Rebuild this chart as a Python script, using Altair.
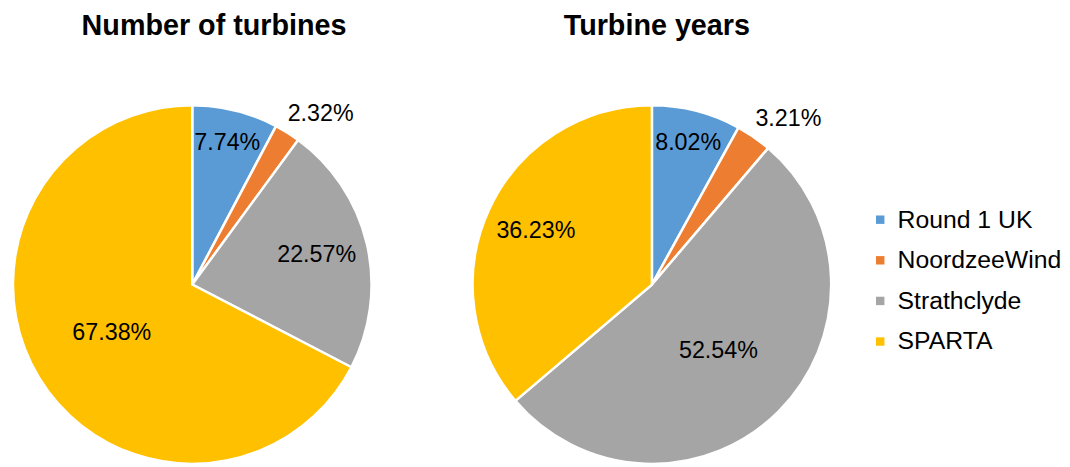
import altair as alt
import pandas as pd

categories = ["Round 1 UK", "NoordzeeWind", "Strathclyde", "SPARTA"]
colors = ["#5B9BD5", "#ED7D31", "#A5A5A5", "#FFC000"]
turbines_pct = [7.74, 2.32, 22.57, 67.38]
years_pct = [8.02, 3.21, 52.54, 36.23]
titles = ["Number of turbines", "Turbine years"]

FONT = "Liberation Sans"


def pie(values, title, title_dx):
    df = pd.DataFrame({"cat": categories, "value": values,
                       "idx": list(range(len(categories)))})
    base = alt.Chart(df).transform_window(
        cum="sum(value)", sort=[alt.SortField("idx")], frame=[None, 0]
    ).transform_joinaggregate(
        total="sum(value)"
    ).transform_calculate(
        ang="2*PI*(datum.cum - datum.value/2)/datum.total",
        lr="datum.value < 5 ? 216 : datum.value < 10 ? 147 : datum.value < 45 ? 129 : 95",
        label="format(datum.value, '.2f') + '%'",
    )
    legend = alt.Legend(
        title=None, orient="none", legendX=866, legendY=106,
        symbolType="square", symbolSize=72, symbolStrokeWidth=0,
        labelFontSize=25, labelFont=FONT, labelColor="black",
        rowPadding=15, labelOffset=5, padding=0, labelLimit=400,
    )
    arcs = base.mark_arc(outerRadius=181, stroke="white", strokeWidth=2.5).encode(
        theta=alt.Theta("value:Q", stack=True),
        order=alt.Order("idx:Q"),
        color=alt.Color("cat:N", scale=alt.Scale(domain=categories, range=colors),
                        sort=categories, legend=legend),
    )
    text_enc = dict(
        theta=alt.Theta("ang:Q", scale=None),
        radius=alt.Radius("lr:Q", scale=None),
        text=alt.Text("label:N"),
    )
    text_in = base.transform_filter("datum.value >= 5").mark_text(
        fontSize=23.5, font=FONT, color="black", align="center", baseline="middle"
    ).encode(**text_enc)
    text_out = base.transform_filter("datum.value < 5").mark_text(
        fontSize=23.5, font=FONT, color="black", align="center", baseline="middle", dx=15, dy=11
    ).encode(**text_enc)
    return alt.layer(arcs, text_in, text_out).resolve_scale(
        theta="independent", radius="independent"
    ).properties(
        width=368, height=368,
        title=alt.Title(title, fontSize=29, font=FONT, fontWeight="bold", color="black",
                        anchor="middle", dx=title_dx, offset=60),
    )


left = pie(turbines_pct, titles[0], 22)
right = pie(years_pct, titles[1], 5)

chart = alt.hconcat(left, right, spacing=92).resolve_scale(
    theta="independent", radius="independent"
).properties(
    padding={"left": 0, "top": 2, "right": 0, "bottom": 0}
).configure_view(stroke=None)

chart.save("out.html", embed_options={"renderer": "svg", "actions": False})
